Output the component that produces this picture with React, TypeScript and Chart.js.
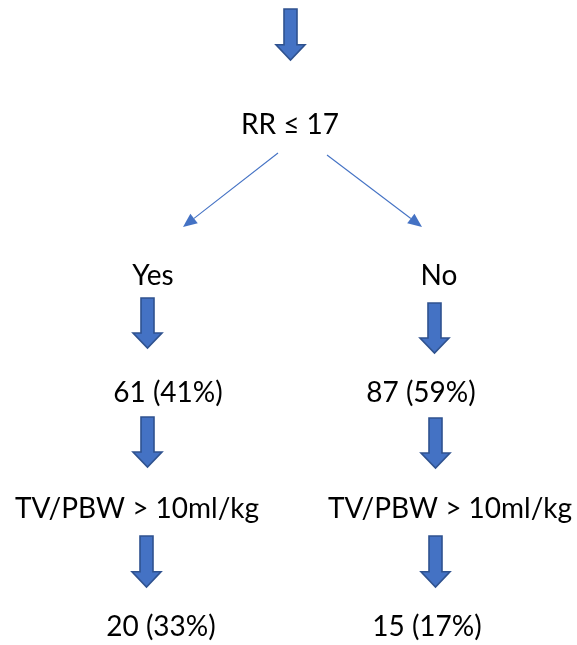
import React, { useEffect, useRef } from "react";
import { Chart, registerables } from "chart.js";

Chart.register(...registerables);

// ---- data ----
const rootLabel = "RR ≤ 17";
const branchLabels = ["Yes", "No"];
const branchCounts = [61, 87];
const branchPercents = [41, 59];
const criterionLabels = ["TV/PBW > 10ml/kg", "TV/PBW > 10ml/kg"];
const outcomeCounts = [20, 15];
const outcomePercents = [33, 17];

// ---- layout (chart value space = pixel-like units, 577 x 645) ----
const W = 577;
const H = 645;
const rootPos = { x: 290, y: 134 };
const topArrow = { x: 290.5, y0: 9, y1: 60 };
const branchTextPos = [{ x: 153, y: 285 }, { x: 439, y: 285 }];
const branchArrow = [{ x: 147.5, y0: 298, y1: 348 }, { x: 434.5, y0: 303, y1: 353 }];
const countPos = [{ x: 168, y: 402 }, { x: 421, y: 402 }];
const countArrow = [{ x: 147.5, y0: 417, y1: 467 }, { x: 435.5, y0: 418, y1: 468 }];
const critPos = [{ x: 137, y: 518 }, { x: 450, y: 518 }];
const critArrow = [{ x: 146.5, y0: 536, y1: 587 }, { x: 435.5, y0: 536, y1: 587 }];
const outPos = [{ x: 161, y: 636 }, { x: 427, y: 636 }];
const splitLines = [
  { x0: 278, y0: 153, x1: 183, y1: 227 },
  { x0: 327, y0: 155, x1: 422, y1: 227 },
];

const FILL = "#4472C4";
const EDGE = "#2F528F";
const FONT = "28px Lato";

const treePlugin = {
  id: "treePlugin",
  afterDatasetsDraw(chart: any) {
    const ctx: CanvasRenderingContext2D = chart.ctx;
    const xs = chart.scales.x;
    const ys = chart.scales.y;
    const px = (v: number) => xs.getPixelForValue(v);
    const py = (v: number) => ys.getPixelForValue(v);

    const blockArrow = (a: { x: number; y0: number; y1: number }) => {
      const cx = px(a.x);
      const top = py(a.y0);
      const tip = py(a.y1);
      const len = tip - top;
      const headH = len * 0.3;
      const shaftHalf = 6.5;
      const headHalf = 14.5;
      const hs = tip - headH;
      ctx.beginPath();
      ctx.moveTo(cx - shaftHalf, top);
      ctx.lineTo(cx + shaftHalf, top);
      ctx.lineTo(cx + shaftHalf, hs);
      ctx.lineTo(cx + headHalf, hs);
      ctx.lineTo(cx, tip);
      ctx.lineTo(cx - headHalf, hs);
      ctx.lineTo(cx - shaftHalf, hs);
      ctx.closePath();
      ctx.fillStyle = FILL;
      ctx.fill();
      ctx.lineWidth = 1.6;
      ctx.strokeStyle = EDGE;
      ctx.lineJoin = "miter";
      ctx.stroke();
    };

    const thinArrow = (l: { x0: number; y0: number; x1: number; y1: number }) => {
      const x0 = px(l.x0), y0 = py(l.y0), x1 = px(l.x1), y1 = py(l.y1);
      const ang = Math.atan2(y1 - y0, x1 - x0);
      const hl = 14;
      const hw = 6;
      const bx = x1 - hl * Math.cos(ang);
      const by = y1 - hl * Math.sin(ang);
      ctx.beginPath();
      ctx.moveTo(x0, y0);
      ctx.lineTo(bx, by);
      ctx.lineWidth = 1.1;
      ctx.strokeStyle = FILL;
      ctx.stroke();
      ctx.beginPath();
      ctx.moveTo(x1, y1);
      ctx.lineTo(bx + hw * Math.sin(ang), by - hw * Math.cos(ang));
      ctx.lineTo(bx - hw * Math.sin(ang), by + hw * Math.cos(ang));
      ctx.closePath();
      ctx.fillStyle = FILL;
      ctx.fill();
    };

    const text = (t: string, p: { x: number; y: number }) => {
      ctx.font = FONT;
      ctx.fillStyle = "#000000";
      ctx.textAlign = "center";
      ctx.textBaseline = "alphabetic";
      ctx.fillText(t, px(p.x), py(p.y));
    };

    ctx.save();
    blockArrow(topArrow);
    text(rootLabel, rootPos);
    splitLines.forEach(thinArrow);
    for (let i = 0; i < 2; i++) {
      text(branchLabels[i], branchTextPos[i]);
      blockArrow(branchArrow[i]);
      text(`${branchCounts[i]} (${branchPercents[i]}%)`, countPos[i]);
      blockArrow(countArrow[i]);
      text(criterionLabels[i], critPos[i]);
      blockArrow(critArrow[i]);
      text(`${outcomeCounts[i]} (${outcomePercents[i]}%)`, outPos[i]);
    }
    ctx.restore();
  },
};

export default function App() {
  const ref = useRef<HTMLCanvasElement | null>(null);
  useEffect(() => {
    document.body.style.margin = "0";
    if (!ref.current) return;
    const nodes = [rootPos, ...branchTextPos, ...countPos, ...critPos, ...outPos];
    const chart = new Chart(ref.current, {
      type: "scatter",
      data: {
        datasets: [
          {
            data: nodes.map((p) => ({ x: p.x, y: p.y })),
            pointRadius: 0,
            pointHoverRadius: 0,
          },
        ],
      },
      options: {
        animation: false,
        responsive: false,
        devicePixelRatio: 1,
        layout: { padding: 0 },
        plugins: { legend: { display: false }, tooltip: { enabled: false } },
        scales: {
          x: { type: "linear", min: 0, max: W, display: false },
          y: { type: "linear", min: 0, max: H, reverse: true, display: false },
        },
      },
      plugins: [treePlugin],
    });
    return () => chart.destroy();
  }, []);
  return (
    <div style={{ width: W, height: H, background: "#fff" }}>
      <canvas ref={ref} width={W} height={H} style={{ display: "block" }} />
    </div>
  );
}
